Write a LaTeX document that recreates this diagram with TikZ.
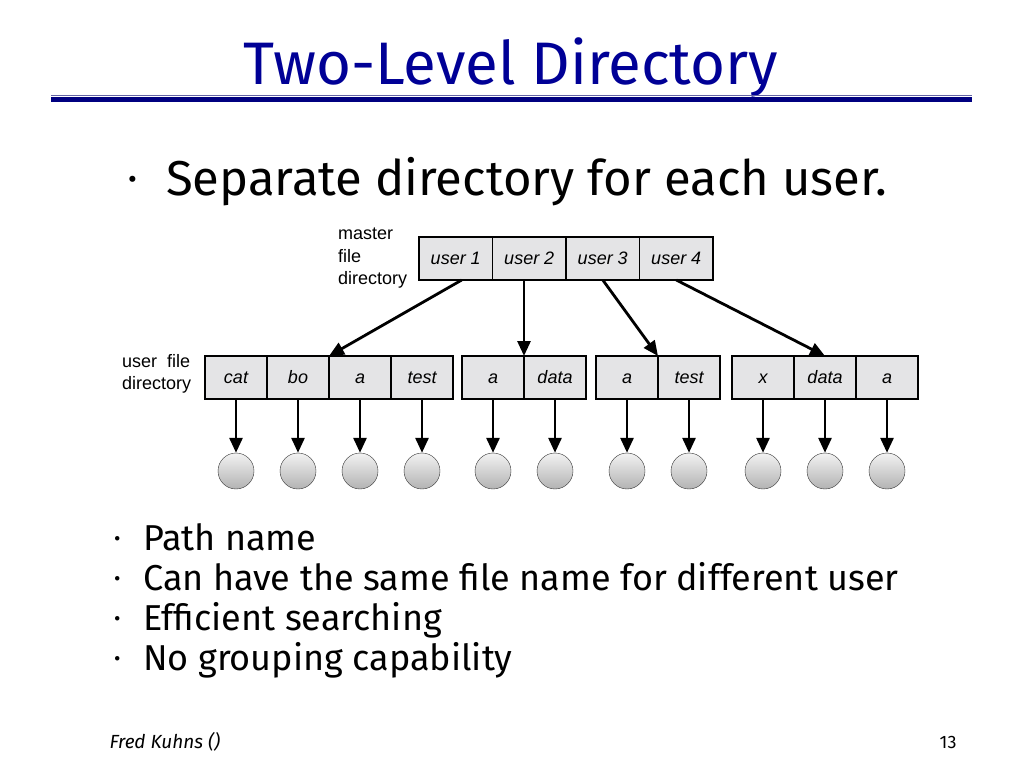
\documentclass[tikz,border=0pt]{standalone}
\usepackage{fontspec}
\setmainfont{Liberation Sans}
\newfontfamily\slidefont{Fira Sans}
\usetikzlibrary{shapes,arrows,arrows.meta,positioning}
\definecolor{titleblue}{RGB}{0,0,150}
\definecolor{rulenavy}{RGB}{0,0,128}
\definecolor{rulelight}{RGB}{100,100,165}
\definecolor{cellgray}{RGB}{228,228,230}
\tikzstyle{title} = [anchor=base, text=titleblue, font=\slidefont\fontsize{60}{66}\selectfont]
\tikzstyle{point} = [anchor=base west, inner sep=0pt, font=\slidefont\fontsize{49}{56}\selectfont]
\tikzstyle{points} = [anchor=base west, inner sep=0pt, align=left, font=\slidefont\fontsize{36}{40}\selectfont]
\tikzstyle{dirlabel} = [anchor=north west, inner sep=0pt, align=left, font=\fontsize{18}{22.5}\selectfont]
\tikzstyle{cell} = [draw, line width=1.2pt, fill=cellgray, rectangle, outer sep=0pt, inner sep=0pt,
    minimum height=43pt, minimum width=62pt, text height=13pt, text depth=2pt,
    font=\fontsize{18}{20}\selectfont\itshape]
\tikzstyle{mcell} = [cell, minimum width=73.5pt]
\tikzstyle{file} = [circle, draw=black!80, thin, top color=gray!10, bottom color=gray!60, minimum size=36pt, inner sep=0pt]
\tikzstyle{link} = [->, line width=2.8pt]
\newcommand{\bul}{\makebox[29pt][l]{\raisebox{0.25ex}{\scalebox{0.55}{•}}}}

\begin{document}
\begin{tikzpicture}[x=1pt, y=-1pt, >={Triangle[length=15pt,width=13pt]}]
    \useasboundingbox (0,0) rectangle (1024,768);
    % We start with the title and its rules
    \node [title] (title) at (511,84) {Two-Level Directory};
    \draw [rulelight, line width=1.6pt] (51,95.5) -- (972,95.5);
    \draw [rulenavy, line width=4.5pt] (51,99.5) -- (972,99.5);
    \node [point] (sep) at (128,195) {\bul\hspace{9pt}Separate directory for each user.};
    % Master file directory
    \node [dirlabel] (mlabel) at (338,228) {master\\file\\directory};
    \node [mcell] (u1) at (455.75,258.5) {user 1};
    \node [mcell, right=0pt of u1] (u2) {user 2};
    \node [mcell, right=0pt of u2] (u3) {user 3};
    \node [mcell, right=0pt of u3] (u4) {user 4};
    % The user file directories
    \node [dirlabel] (ulabel) at (122,354) {user\ \ file\\directory};
    \node [cell] (cat) at (236,377.5) {cat};
    \node [cell, right=0pt of cat] (bo) {bo};
    \node [cell, right=0pt of bo] (a1) {a};
    \node [cell, right=0pt of a1] (test1) {test};
    \node [cell] (a2) at (493,377.5) {a};
    \node [cell, right=0pt of a2] (data2) {data};
    \node [cell] (a3) at (627,377.5) {a};
    \node [cell, right=0pt of a3] (test3) {test};
    \node [cell] (x4) at (763,377.5) {x};
    \node [cell, right=0pt of x4] (data4) {data};
    \node [cell, right=0pt of data4] (a4) {a};
    % The files
    \node [file] (f1) at (236,471) {};
    \node [file] (f2) at (298,471) {};
    \node [file] (f3) at (360,471) {};
    \node [file] (f4) at (422,471) {};
    \node [file] (f5) at (493,471) {};
    \node [file] (f6) at (555,471) {};
    \node [file] (f7) at (627,471) {};
    \node [file] (f8) at (689,471) {};
    \node [file] (f9) at (763,471) {};
    \node [file] (f10) at (825,471) {};
    \node [file] (f11) at (887,471) {};
    % We draw the links from the master directory
    \draw [link] ([xshift=6pt]u1.south) -- (bo.north east);
    \draw [link] (u2.south -| a2.north east) -- (a2.north east);
    \draw [link] (u3.south) -- (a3.north east);
    \draw [link] (u4.south) -- (data4.north);
    % and from every entry to its file
    \draw [link] (cat) -- (f1);
    \draw [link] (bo) -- (f2);
    \draw [link] (a1) -- (f3);
    \draw [link] (test1) -- (f4);
    \draw [link] (a2) -- (f5);
    \draw [link] (data2) -- (f6);
    \draw [link] (a3) -- (f7);
    \draw [link] (test3) -- (f8);
    \draw [link] (x4) -- (f9);
    \draw [link] (data4) -- (f10);
    \draw [link] (a4) -- (f11);
    % Remarks and footer
    \node [points] (notes) at (114,670) {\bul Path name\\ \bul Can have the same file name for different user\\ \bul Efficient searching\\ \bul No grouping capability};
    \node [anchor=base west, font=\slidefont\itshape\fontsize{19}{22}\selectfont] (author) at (106,748) {Fred Kuhns ()};
    \node [anchor=base east, font=\slidefont\fontsize{18}{22}\selectfont] (page) at (960,748) {13};
\end{tikzpicture}
\end{document}
